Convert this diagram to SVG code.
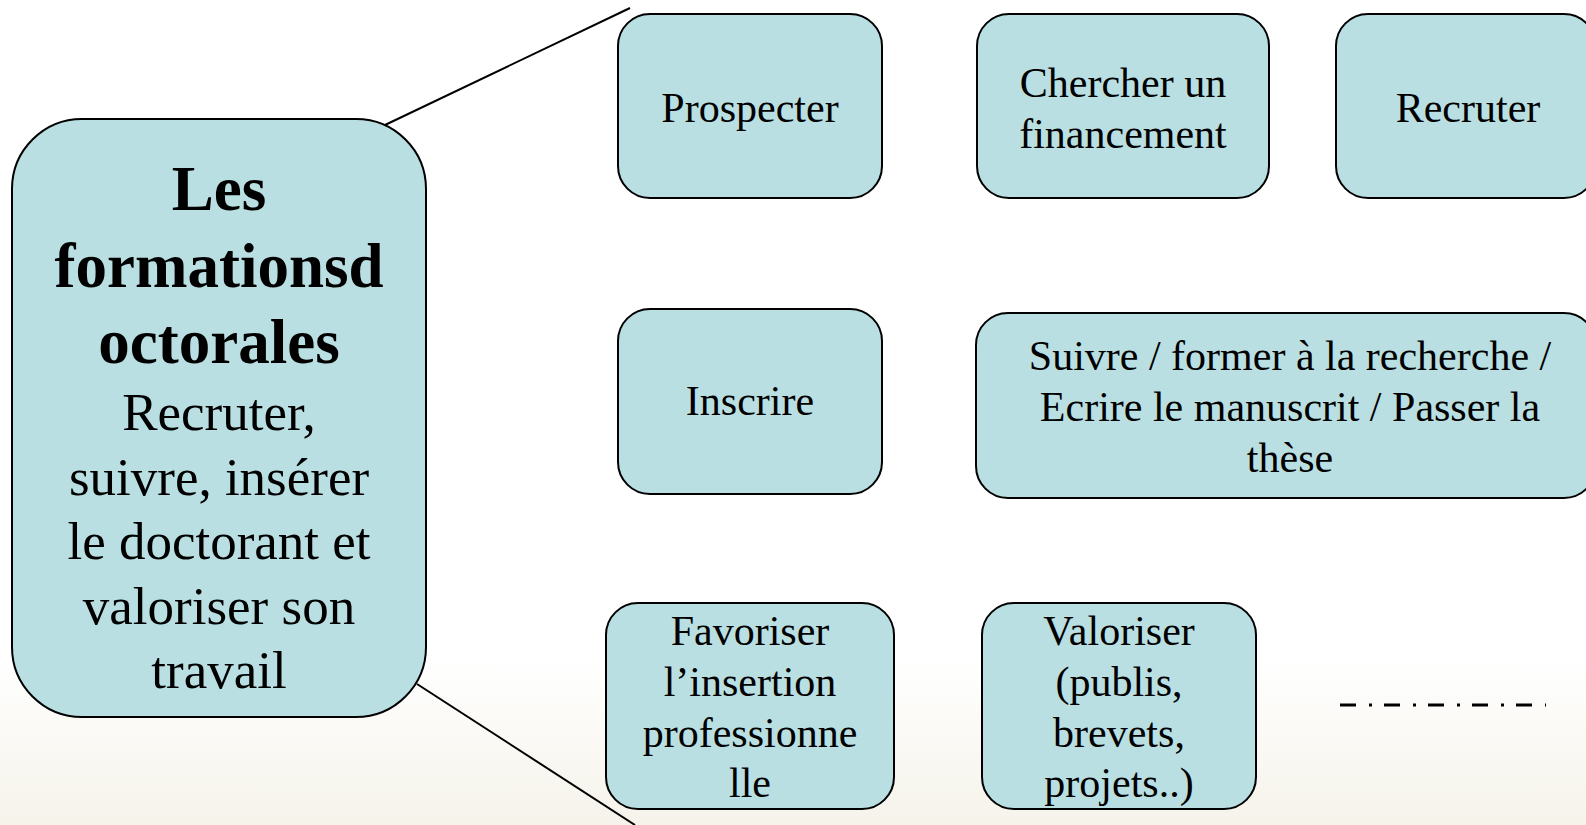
<svg xmlns="http://www.w3.org/2000/svg" width="1586" height="825" viewBox="0 0 1586 825">
<defs>
<linearGradient id="bg" x1="0" y1="0" x2="0" y2="1">
<stop offset="0" stop-color="#ffffff"/>
<stop offset="0.8" stop-color="#ffffff"/>
<stop offset="1" stop-color="#f5f3ea"/>
</linearGradient>
<style>
.box{fill:#b9dfe2;stroke:#000;stroke-width:2}
.t{font-family:"Liberation Serif","Times New Roman",serif;font-size:42px;fill:#000;text-anchor:middle}
.m{font-family:"Liberation Serif","Times New Roman",serif;font-size:53px;fill:#000;text-anchor:middle}
.b{font-weight:bold;font-size:63px}
.ln{stroke:#000;stroke-width:2;fill:none}
</style>
</defs>
<rect x="0" y="0" width="1586" height="825" fill="url(#bg)"/>
<g id="connectors">
<line class="ln" x1="385" y1="125" x2="630" y2="8"/>
<line class="ln" x1="417" y1="684" x2="635" y2="825"/>
<line x1="1340" y1="705" x2="1546" y2="705" stroke="#000" stroke-width="3" stroke-dasharray="16 13 3 12"/>
</g>
<g id="main">
<rect class="box" x="12" y="119" width="414" height="598" rx="70" ry="70"/>
<text class="m b" x="219" y="210">Les</text>
<text class="m b" x="219" y="287">formationsd</text>
<text class="m b" x="219" y="363">octorales</text>
<text class="m" x="219" y="430">Recruter,</text>
<text class="m" x="219" y="495">suivre, insérer</text>
<text class="m" x="219" y="559">le doctorant et</text>
<text class="m" x="219" y="624">valoriser son</text>
<text class="m" x="219" y="688">travail</text>
</g>
<g id="prospecter">
<rect class="box" x="618" y="14" width="264" height="184" rx="32" ry="32"/>
<text class="t" x="750" y="122">Prospecter</text>
</g>
<g id="chercher">
<rect class="box" x="977" y="14" width="292" height="184" rx="32" ry="32"/>
<text class="t" x="1123" y="97">Chercher un</text>
<text class="t" x="1123" y="148">financement</text>
</g>
<g id="recruter">
<rect class="box" x="1336" y="14" width="260" height="184" rx="32" ry="32"/>
<text class="t" x="1468" y="122">Recruter</text>
</g>
<g id="inscrire">
<rect class="box" x="618" y="309" width="264" height="185" rx="32" ry="32"/>
<text class="t" x="750" y="415">Inscrire</text>
</g>
<g id="suivre">
<rect class="box" x="976" y="313" width="620" height="185" rx="32" ry="32"/>
<text class="t" x="1290" y="370">Suivre / former à la recherche /</text>
<text class="t" x="1290" y="421">Ecrire le manuscrit / Passer la</text>
<text class="t" x="1290" y="472">thèse</text>
</g>
<g id="favoriser">
<rect class="box" x="606" y="603" width="288" height="206" rx="32" ry="32"/>
<text class="t" x="750" y="645">Favoriser</text>
<text class="t" x="750" y="696">l’insertion</text>
<text class="t" x="750" y="747">professionne</text>
<text class="t" x="750" y="797">lle</text>
</g>
<g id="valoriser">
<rect class="box" x="982" y="603" width="274" height="206" rx="32" ry="32"/>
<text class="t" x="1119" y="645">Valoriser</text>
<text class="t" x="1119" y="696">(publis,</text>
<text class="t" x="1119" y="747">brevets,</text>
<text class="t" x="1119" y="797">projets..)</text>
</g>
</svg>
